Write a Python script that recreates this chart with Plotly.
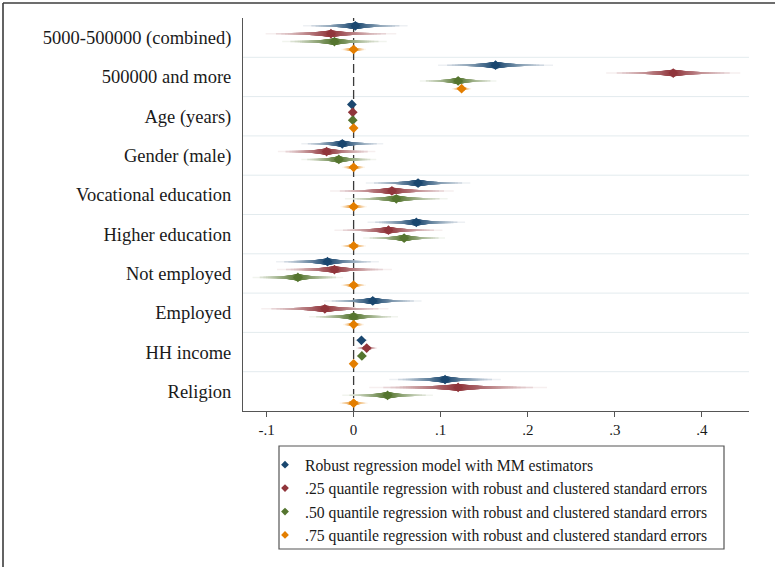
import plotly.graph_objects as go
from statistics import NormalDist

# ---------------- data ----------------
categories = [
    "5000-500000 (combined)", "500000 and more", "Age (years)", "Gender (male)",
    "Vocational education", "Higher education", "Not employed", "Employed",
    "HH income", "Religion",
]
tick_vals = [-0.1, 0.0, 0.1, 0.2, 0.3, 0.4]
tick_text = ["-.1", "0", ".1", ".2", ".3", ".4"]

series_names = [
    "Robust regression model with MM estimators",
    ".25 quantile regression with robust and clustered standard errors",
    ".50 quantile regression with robust and clustered standard errors",
    ".75 quantile regression with robust and clustered standard errors",
]

# point estimates
b_mm = [0.002, 0.163, -0.002, -0.013, 0.074, 0.072, -0.030, 0.022, 0.009, 0.105]
b_q25 = [-0.026, 0.367, -0.001, -0.031, 0.044, 0.040, -0.022, -0.033, 0.015, 0.120]
b_q50 = [-0.022, 0.120, -0.001, -0.017, 0.049, 0.058, -0.064, 0.000, 0.0095, 0.039]
b_q75 = [0.000, 0.124, 0.000, 0.000, 0.000, 0.000, 0.000, 0.000, 0.000, 0.000]

# half-widths of the 99% confidence intervals
ci_mm = [0.060, 0.066, 0.001, 0.047, 0.060, 0.056, 0.059, 0.056, 0.007, 0.064]
ci_q25 = [0.075, 0.077, 0.001, 0.056, 0.071, 0.062, 0.066, 0.073, 0.012, 0.102]
ci_q50 = [0.060, 0.044, 0.001, 0.043, 0.059, 0.047, 0.052, 0.051, 0.006, 0.052]
ci_q75 = [0.014, 0.011, 0.001, 0.013, 0.015, 0.014, 0.014, 0.012, 0.003, 0.016]

colors = ["#1a476f", "#90353b", "#55752f", "#e37e00"]

# ---------------- styling ----------------
FONT = "Liberation Serif, Times New Roman, serif"
offsets = [-0.3, -0.1, 0.1, 0.3]
N_LEVELS = 50
W_MIN, W_MAX = 1.5, 7.0
I_MIN = 0.08


def hex_to_rgb(h):
    h = h.lstrip("#")
    return tuple(int(h[i:i + 2], 16) for i in (0, 2, 4))


def tint(h, t):
    r, g, b = hex_to_rgb(h)
    return "rgb(%d,%d,%d)" % (round(255 + (r - 255) * t), round(255 + (g - 255) * t), round(255 + (b - 255) * t))


nd = NormalDist()
z99 = nd.inv_cdf(0.995)

fig = go.Figure()

all_series = [
    (series_names[0], b_mm, ci_mm, colors[0]),
    (series_names[1], b_q25, ci_q25, colors[1]),
    (series_names[2], b_q50, ci_q50, colors[2]),
    (series_names[3], b_q75, ci_q75, colors[3]),
]

ypos = list(range(1, len(categories) + 1))

for s, (name, b, ci, col) in enumerate(all_series):
    for k in range(N_LEVELS):
        p = 0.99 - 0.98 * k / (N_LEVELS - 1)
        frac = (0.99 - p) / 0.98
        z = nd.inv_cdf(0.5 + p / 2)
        w = W_MIN + (W_MAX - W_MIN) * frac ** 1.6
        t = I_MIN + (1 - I_MIN) * frac ** 0.5
        xs, ys = [], []
        for i in range(len(categories)):
            se = ci[i] / z99
            xs += [b[i] - z * se, b[i] + z * se, None]
            ys += [ypos[i] + offsets[s]] * 2 + [None]
        fig.add_trace(go.Scatter(
            x=xs, y=ys, mode="lines", line=dict(color=tint(col, t), width=w),
            showlegend=False, hoverinfo="skip", legendgroup=f"g{s}",
        ))

for s, (name, b, ci, col) in enumerate(all_series):
    fig.add_trace(go.Scatter(
        x=b, y=[y + offsets[s] for y in ypos], mode="markers",
        marker=dict(symbol="diamond", size=7.5, color=col, line=dict(width=0)),
        showlegend=False, legendgroup=f"g{s}", name=name,
    ))

# legend-only entries
for s, (name, b, ci, col) in enumerate(all_series):
    fig.add_trace(go.Scatter(
        x=[None], y=[None], mode="markers", name=name, legendgroup=f"g{s}",
        marker=dict(symbol="diamond", size=6, color=col, line=dict(width=0)),
    ))

# plot-area geometry (pixels)
L, R, T, B = 243, 26, 18, 156
W, H = 775, 567
pw, ph = W - L - R, H - T - B


def px_to_paper_x(px):
    return (px - L) / pw


def py_to_paper_y(py):
    return (H - B - py) / ph


shapes = []
# category separator grid lines
for i in range(1, len(categories)):
    shapes.append(dict(type="line", xref="paper", yref="y", x0=0, x1=1, y0=i + 0.5, y1=i + 0.5,
                       line=dict(color="#e3ebee", width=1), layer="below"))
# zero reference line
shapes.append(dict(type="line", xref="x", yref="paper", x0=0, x1=0, y0=0, y1=1,
                   line=dict(color="#3a3a3a", width=1.3, dash="9px,4px"), layer="below"))
# figure border (top and left only)
shapes.append(dict(type="line", xref="paper", yref="paper",
                   x0=px_to_paper_x(3), x1=px_to_paper_x(W + 5), y0=py_to_paper_y(3), y1=py_to_paper_y(3),
                   line=dict(color="#3c3c3c", width=1.6)))
shapes.append(dict(type="line", xref="paper", yref="paper",
                   x0=px_to_paper_x(3), x1=px_to_paper_x(3), y0=py_to_paper_y(3), y1=py_to_paper_y(H + 5),
                   line=dict(color="#3c3c3c", width=1.6)))
# legend box
shapes.append(dict(type="rect", xref="paper", yref="paper",
                   x0=px_to_paper_x(279), x1=px_to_paper_x(724), y0=py_to_paper_y(446), y1=py_to_paper_y(549),
                   line=dict(color="#555555", width=1.2), fillcolor="rgba(0,0,0,0)"))

fig.update_layout(
    width=W, height=H,
    margin=dict(l=L, r=R, t=T, b=B, pad=0),
    paper_bgcolor="white", plot_bgcolor="white",
    font=dict(family=FONT, color="#1a1a1a"),
    shapes=shapes,
    showlegend=True,
    legend=dict(
        x=px_to_paper_x(265), y=py_to_paper_y(448), xanchor="left", yanchor="top",
        bgcolor="rgba(0,0,0,0)", borderwidth=0, font=dict(family=FONT, size=15.7, color="#1a1a1a"),
        traceorder="grouped", tracegroupgap=0, itemclick=False,
    ),
    xaxis=dict(
        range=[-0.127, 0.454], tickmode="array", tickvals=tick_vals, ticktext=tick_text,
        showgrid=False, zeroline=False, showline=True, linecolor="#555555", linewidth=1,
        ticks="outside", ticklen=5, tickcolor="#555555", tickwidth=1,
        tickfont=dict(family=FONT, size=15, color="#1a1a1a"),
    ),
    yaxis=dict(
        range=[len(categories) + 0.5, 0.5], tickmode="array", tickvals=ypos, ticktext=categories,
        showgrid=False, zeroline=False, showline=True, linecolor="#555555", linewidth=1,
        ticks="outside", ticklen=7, tickcolor="rgba(0,0,0,0)",
        tickfont=dict(family=FONT, size=18.5, color="#1a1a1a"),
    ),
)

fig.write_html("out.html")
